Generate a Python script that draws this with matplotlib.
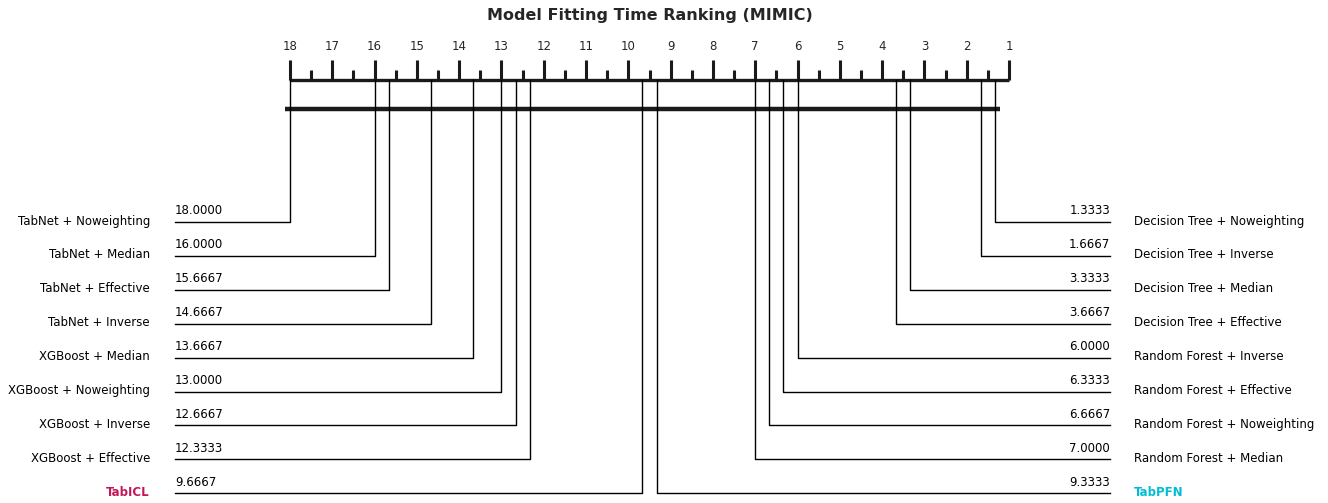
import matplotlib.pyplot as plt

# ── data ──────────────────────────────────────────────────────────────
left_names = ["TabNet + Noweighting", "TabNet + Median", "TabNet + Effective",
              "TabNet + Inverse", "XGBoost + Median", "XGBoost + Noweighting",
              "XGBoost + Inverse", "XGBoost + Effective", "TabICL"]
left_ranks = [18.0, 16.0, 15.6667, 14.6667, 13.6667, 13.0, 12.6667, 12.3333, 9.6667]

right_names = ["Decision Tree + Noweighting", "Decision Tree + Inverse",
               "Decision Tree + Median", "Decision Tree + Effective",
               "Random Forest + Inverse", "Random Forest + Effective",
               "Random Forest + Noweighting", "Random Forest + Median", "TabPFN"]
right_ranks = [1.3333, 1.6667, 3.3333, 3.6667, 6.0, 6.3333, 6.6667, 7.0, 9.3333]

highlight = {"TabICL": "#C2185B", "TabPFN": "#00BCD4"}
n_methods = 18
clique = (18.0, 1.3333)

# ── layout (pixels) ───────────────────────────────────────────────────
W, H = 1328, 503
X_LO, X_HI = 290, 1009          # pixel x of rank 18 and rank 1
AXIS_Y = 80
ROW0, ROW_STEP = 222, 33.9
FS = 8.5

px_per_rank = (X_HI - X_LO) / (n_methods - 1)


def px2rank(px):
    return n_methods - (px - X_LO) / px_per_rank


fig = plt.figure(figsize=(W / 100, H / 100), dpi=100)
ax = fig.add_axes([0, 0, 1, 1])
ax.set_xlim(px2rank(0), px2rank(W))
ax.set_ylim(H, 0)
ax.axis("off")

txt = "#262626"

# axis line + ticks
ax.plot([n_methods, 1], [AXIS_Y, AXIS_Y], color="#1a1a1a", lw=2.4,
        solid_capstyle="butt")
for r in range(1, n_methods + 1):
    ax.plot([r, r], [AXIS_Y, 60], color="#1a1a1a", lw=2.2, solid_capstyle="butt")
    ax.text(r, 46, str(r), ha="center", va="center", fontsize=FS, color=txt)
for k in range(1, n_methods):
    r = k + 0.5
    ax.plot([r, r], [AXIS_Y, 70], color="#1a1a1a", lw=2.2, solid_capstyle="butt")

# clique bar
pad = 5 / px_per_rank
ax.plot([clique[0] + pad, clique[1] - pad], [109, 109],
        color="#1a1a1a", lw=3.2, solid_capstyle="butt")

# left side
for i, (name, r) in enumerate(zip(left_names, left_ranks)):
    y = ROW0 + i * ROW_STEP
    ax.plot([r, r, px2rank(175)], [AXIS_Y, y, y], color="black", lw=1.0)
    ax.text(px2rank(175), y - 4.5, f"{r:.4f}", ha="left", va="bottom",
            fontsize=FS, color="black")
    col = highlight.get(name, "black")
    ax.text(px2rank(150), y - 1, name, ha="right", va="center", fontsize=FS,
            color=col, fontweight="bold" if name in highlight else "normal")

# right side
for i, (name, r) in enumerate(zip(right_names, right_ranks)):
    y = ROW0 + i * ROW_STEP
    ax.plot([r, r, px2rank(1110)], [AXIS_Y, y, y], color="black", lw=1.0)
    ax.text(px2rank(1110), y - 4.5, f"{r:.4f}", ha="right", va="bottom",
            fontsize=FS, color="black")
    col = highlight.get(name, "black")
    ax.text(px2rank(1134), y - 1, name, ha="left", va="center", fontsize=FS,
            color=col, fontweight="bold" if name in highlight else "normal")

ax.text(px2rank(650), 15, "Model Fitting Time Ranking (MIMIC)", ha="center",
        va="center", fontsize=11.5, fontweight="bold", color=txt)

fig.savefig("out.png", dpi=100, facecolor="white")
